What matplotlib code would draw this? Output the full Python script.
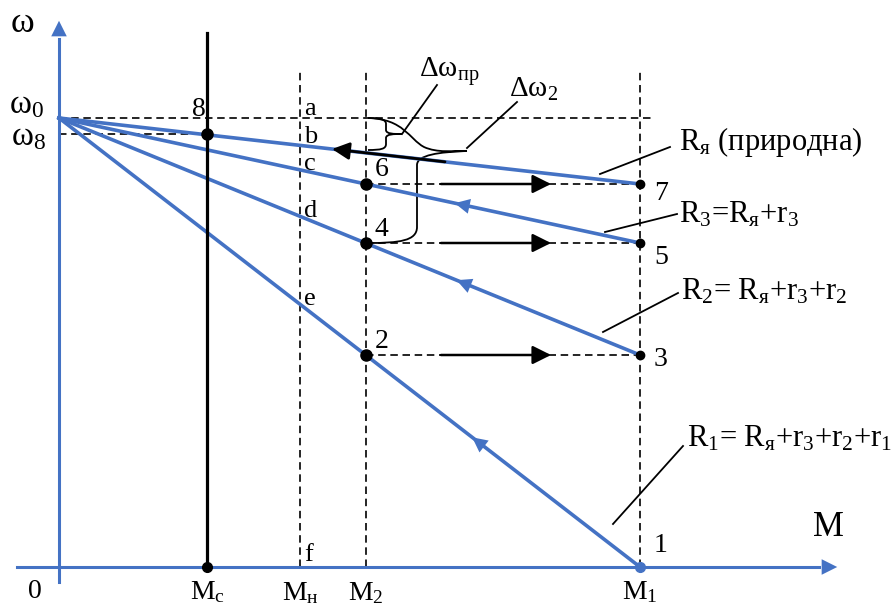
import matplotlib
matplotlib.use("Agg")
import matplotlib.pyplot as plt
from matplotlib.path import Path
from matplotlib.patches import PathPatch, FancyArrowPatch
import numpy as np

plt.rcParams['font.family'] = ['Liberation Serif', 'DejaVu Serif']
plt.rcParams['mathtext.fontset'] = 'custom'
plt.rcParams['mathtext.rm'] = 'Liberation Serif'
plt.rcParams['mathtext.default'] = 'regular'

blue = '#4472C4'

# torque values on the M axis
M_c, M_n, M_2, M_1 = 148, 241, 307, 581
# ideal no-load speed and speed at point 8
w0, w8 = 449, 433
# speed of each characteristic at M1: natural, R3, R2, R1
w_M1 = [383, 324, 212, 0]
# speed at M2 for points 6, 4, 2 (on R3, R2, R1)
w_M2 = [383, 324, 212]
labels_M1 = ['7', '5', '3', '1']
labels_M2 = ['6', '4', '2']
# speeds where letters sit on the Mн line
letters = ['a', 'b', 'c', 'd', 'e', 'f']
w_letters = [458, 430, 403, 356, 268, 12]

def on_line(w_end, m):
    return w0 + (w_end - w0) * m / M_1

fig = plt.figure(figsize=(8.95, 6.07), dpi=100)
ax = fig.add_axes([0, 0, 1, 1])
ax.set_xlim(-59, 836)
ax.set_ylim(-40, 567)
ax.axis('off')

dash = dict(color='black', lw=1.2, ls=(0, (4.5, 2.8)))

# axes with arrows
ax.plot([-42, 760], [0, 0], color=blue, lw=2.2, zorder=3)
ax.plot([0, 0], [-15, 528], color=blue, lw=2.2, zorder=3)
ax.annotate('', xy=(781, 0), xytext=(750, 0),
            arrowprops=dict(arrowstyle='-|>', color=blue, lw=0, mutation_scale=28))
ax.annotate('', xy=(0, 549), xytext=(0, 518),
            arrowprops=dict(arrowstyle='-|>', color=blue, lw=0, mutation_scale=28))

# dashed guides
ax.plot([0, M_1 + 15], [w0, w0], **dash)
ax.plot([0, M_c], [w8, w8], **dash)
for m in [M_n, M_2, M_1]:
    ax.plot([m, m], [0, 497], **dash)
for w in w_M2:
    ax.plot([M_2, M_1], [w, w], **dash)
    ax.annotate('', xy=(M_2 + 185, w), xytext=(M_2 + 75, w),
                arrowprops=dict(arrowstyle='-|>', color='black', lw=1.8,
                                mutation_scale=28, shrinkA=0, shrinkB=0))

# Mc load line
ax.plot([M_c, M_c], [0, 534], color='black', lw=2.3, zorder=4)
ax.plot([M_c], [0], 'o', color='black', ms=7, zorder=5)
ax.plot([M_c], [w8], 'o', color='black', ms=8, zorder=5)

# characteristics
for w_end in w_M1:
    ax.plot([0, M_1], [w0, w_end], color=blue, lw=2.6, zorder=3)

# arrows along the artificial characteristics
for w_end, m in zip(w_M1[1:], [401, 403, 419]):
    ax.annotate('', xy=(m - 8, on_line(w_end, m - 8)), xytext=(m + 4, on_line(w_end, m + 4)),
                arrowprops=dict(arrowstyle='-|>', color=blue, lw=0, mutation_scale=27))

# black arrow on natural characteristic
ax.add_patch(FancyArrowPatch((386, on_line(w_M1[0], 386)), (273, on_line(w_M1[0], 273)),
                             arrowstyle='-|>', color='black', lw=2, mutation_scale=26,
                             shrinkA=0, shrinkB=0, zorder=4))

# points
for w, lab in zip(w_M2, labels_M2):
    ax.plot([M_2], [w], 'o', color='black', ms=8, zorder=5)
    ax.text(M_2 + 9, w + 14, lab, fontsize=20, ha='left', va='center')
for w, lab in zip(w_M1, labels_M1):
    if w > 0:
        ax.plot([M_1], [w], 'o', color='black', ms=6, zorder=4)
ax.plot([M_1], [0], 'o', color=blue, ms=7, zorder=5)
for w, lab, dy in zip(w_M1, labels_M1, [-9, -15, -5, 21]):
    ax.text(M_1 + 14, w + dy, lab, fontsize=20, ha='left', va='center')

for w, lab in zip(w_letters, letters):
    ax.text(M_n + 4, w, lab, fontsize=19, ha='left', va='center')

# braces
brace_pr = Path([(309, 449), (325, 449), (327, 446), (327, 443),
                 (327, 437), (327, 433), (335, 433), (343, 433),
                 (335, 433), (327, 433), (327, 429),
                 (327, 423), (327, 418), (322, 417), (309, 417)],
                [Path.MOVETO, Path.CURVE4, Path.CURVE4, Path.CURVE4,
                 Path.LINETO, Path.CURVE4, Path.CURVE4, Path.CURVE4,
                 Path.CURVE4, Path.CURVE4, Path.CURVE4,
                 Path.LINETO, Path.CURVE4, Path.CURVE4, Path.CURVE4])
ax.add_patch(PathPatch(brace_pr, fill=False, lw=1.3, color='black'))
brace_2 = Path([(309, 449), (345, 448), (350, 428), (365, 420),
                (378, 414), (395, 416), (408, 416),
                (380, 415), (358, 412), (358, 402),
                (358, 340), (358, 326), (340, 324), (309, 324)],
               [Path.MOVETO, Path.CURVE4, Path.CURVE4, Path.CURVE4,
                Path.CURVE4, Path.CURVE4, Path.CURVE4,
                Path.CURVE4, Path.CURVE4, Path.CURVE4,
                Path.LINETO, Path.CURVE4, Path.CURVE4, Path.CURVE4])
ax.add_patch(PathPatch(brace_2, fill=False, lw=1.3, color='black'))
ax.plot([343, 378], [433, 482], color='black', lw=1.3)
ax.plot([408, 458], [419, 465], color='black', lw=1.3)
ax.text(360, 495, 'Δω$_{пр}$', fontsize=21, ha='left', va='center')
ax.text(450, 478, 'Δω$_2$', fontsize=21, ha='left', va='center')

# resistance labels with leaders
res_labels = ['R$_я$ (природна)', 'R$_3$=R$_я$+r$_3$', 'R$_2$= R$_я$+r$_3$+r$_2$',
              'R$_1$= R$_я$+r$_3$+r$_2$+r$_1$']
leader_from = [(541, 393), (546, 335), (544, 235), (554, 43)]
leader_to = [(611, 420), (618, 353), (619, 274), (624, 121)]
text_at = [(620, 425), (620, 352), (622, 275), (628, 128)]
for lab, p0, p1, pt in zip(res_labels, leader_from, leader_to, text_at):
    ax.plot([p0[0], p1[0]], [p0[1], p1[1]], color='black', lw=1.3)
    ax.text(pt[0], pt[1], lab, fontsize=22, ha='left', va='center')

# axis labels
ax.text(-37, 543, 'ω', fontsize=26, ha='center', va='center')
ax.text(-50, 462, 'ω$_0$', fontsize=24, ha='left', va='center')
ax.text(-48, 430, 'ω$_8$', fontsize=24, ha='left', va='center')
ax.text(140, 458, '8', fontsize=20, ha='center', va='center')
ax.text(-24, -25, '0', fontsize=20, ha='center', va='center')
ax.text(769, 39, 'M', fontsize=25, ha='center', va='center')
for m, lab, y in zip([M_c, M_n, M_2, M_1], ['M$_с$', 'M$_н$', 'M$_2$', 'M$_1$'],
                     [-25, -26, -26, -25]):
    ax.text(m, y, lab, fontsize=20, ha='center', va='center')

fig.savefig('out.png', dpi=100)
